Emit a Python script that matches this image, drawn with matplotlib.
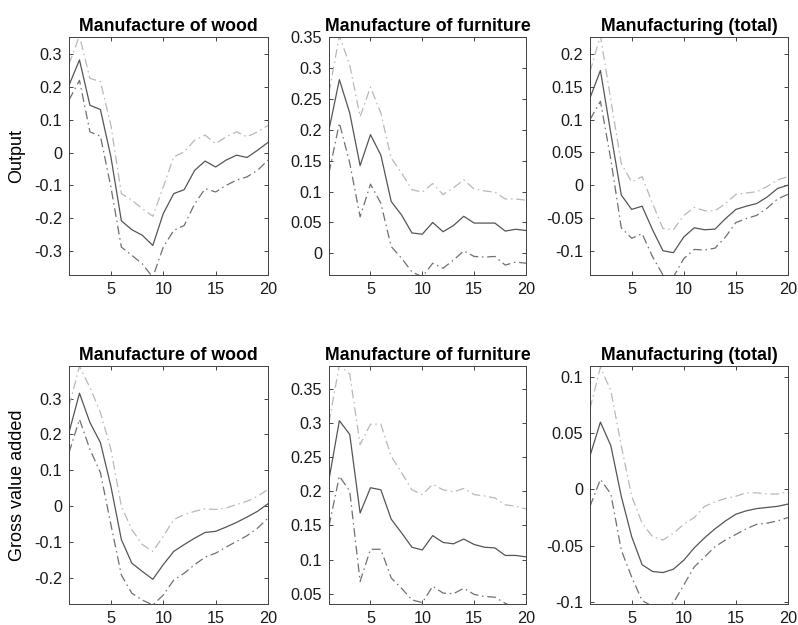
import matplotlib
matplotlib.use("Agg")
import matplotlib.pyplot as plt
from matplotlib.ticker import FuncFormatter, MultipleLocator

plt.rcParams['font.family'] = ['Liberation Sans', 'DejaVu Sans']
plt.rcParams['axes.unicode_minus'] = False

horizon = list(range(1, 21))

titles = ["Manufacture of wood", "Manufacture of furniture", "Manufacturing (total)"]
row_labels = ["Output", "Gross value added"]

# Output - wood
out_wood_mid = [0.205, 0.282, 0.144, 0.131, -0.013, -0.208, -0.235, -0.252, -0.283, -0.186,
                -0.125, -0.113, -0.054, -0.026, -0.044, -0.023, -0.008, -0.015, 0.007, 0.031]
out_wood_up = [0.27, 0.355, 0.226, 0.216, 0.083, -0.125, -0.145, -0.171, -0.194, -0.105,
               -0.013, 0.002, 0.038, 0.053, 0.027, 0.048, 0.063, 0.048, 0.063, 0.083]
out_wood_lo = [0.16, 0.22, 0.063, 0.05, -0.105, -0.288, -0.313, -0.339, -0.38, -0.288,
               -0.237, -0.222, -0.156, -0.11, -0.12, -0.1, -0.084, -0.074, -0.054, -0.023]

# Output - furniture
out_furn_mid = [0.2, 0.281, 0.227, 0.142, 0.192, 0.159, 0.084, 0.062, 0.033, 0.031,
                0.05, 0.035, 0.045, 0.06, 0.049, 0.049, 0.049, 0.036, 0.039, 0.037]
out_furn_up = [0.26, 0.352, 0.305, 0.221, 0.269, 0.227, 0.154, 0.13, 0.103, 0.099,
               0.113, 0.095, 0.106, 0.119, 0.104, 0.101, 0.099, 0.088, 0.088, 0.086]
out_furn_lo = [0.13, 0.211, 0.146, 0.059, 0.112, 0.081, 0.011, -0.008, -0.03, -0.038,
               -0.016, -0.024, -0.011, 0.004, -0.005, -0.006, -0.005, -0.019, -0.014, -0.016]

# Output - manufacturing total
out_tot_mid = [0.133, 0.175, 0.079, -0.015, -0.037, -0.032, -0.068, -0.1, -0.103, -0.079,
               -0.065, -0.068, -0.067, -0.051, -0.037, -0.032, -0.028, -0.018, -0.005, 0.0]
out_tot_up = [0.173, 0.228, 0.13, 0.033, 0.005, 0.013, -0.028, -0.066, -0.068, -0.046,
              -0.034, -0.039, -0.039, -0.028, -0.014, -0.012, -0.01, -0.002, 0.008, 0.013]
out_tot_lo = [0.1, 0.128, 0.039, -0.065, -0.081, -0.074, -0.109, -0.137, -0.14, -0.112,
              -0.098, -0.099, -0.096, -0.079, -0.057, -0.051, -0.046, -0.035, -0.021, -0.014]

# GVA - wood
gva_wood_mid = [0.205, 0.315, 0.233, 0.177, 0.055, -0.094, -0.16, -0.183, -0.205, -0.164,
                -0.127, -0.108, -0.09, -0.074, -0.071, -0.059, -0.046, -0.031, -0.015, 0.006]
gva_wood_up = [0.279, 0.39, 0.331, 0.261, 0.158, -0.001, -0.066, -0.108, -0.127, -0.085,
               -0.038, -0.024, -0.015, -0.008, -0.01, -0.006, 0.004, 0.013, 0.027, 0.046]
gva_wood_lo = [0.149, 0.242, 0.158, 0.093, -0.052, -0.193, -0.244, -0.263, -0.277, -0.249,
               -0.207, -0.188, -0.164, -0.143, -0.132, -0.115, -0.099, -0.083, -0.062, -0.034]

# GVA - furniture
gva_furn_mid = [0.217, 0.303, 0.283, 0.168, 0.205, 0.202, 0.159, 0.139, 0.118, 0.114,
                0.135, 0.125, 0.123, 0.13, 0.122, 0.118, 0.117, 0.106, 0.106, 0.104]
gva_furn_up = [0.3, 0.385, 0.371, 0.268, 0.298, 0.298, 0.251, 0.227, 0.202, 0.195,
               0.21, 0.202, 0.199, 0.204, 0.195, 0.193, 0.19, 0.18, 0.178, 0.174]
gva_furn_lo = [0.149, 0.222, 0.2, 0.068, 0.115, 0.115, 0.073, 0.058, 0.041, 0.037,
               0.061, 0.051, 0.05, 0.058, 0.049, 0.046, 0.045, 0.036, 0.029, 0.027]

# GVA - manufacturing total
gva_tot_mid = [0.03, 0.06, 0.039, -0.006, -0.042, -0.067, -0.073, -0.074, -0.071, -0.063,
               -0.052, -0.043, -0.035, -0.028, -0.022, -0.019, -0.017, -0.016, -0.015, -0.013]
gva_tot_up = [0.072, 0.109, 0.088, 0.039, -0.006, -0.03, -0.042, -0.045, -0.039, -0.031,
              -0.025, -0.015, -0.011, -0.008, -0.006, -0.003, -0.003, -0.004, -0.004, -0.002]
gva_tot_lo = [-0.015, 0.009, -0.004, -0.054, -0.078, -0.099, -0.104, -0.104, -0.101, -0.085,
              -0.069, -0.06, -0.051, -0.045, -0.04, -0.035, -0.031, -0.03, -0.028, -0.025]

panels = [
    [(out_wood_mid, out_wood_up, out_wood_lo), (out_furn_mid, out_furn_up, out_furn_lo),
     (out_tot_mid, out_tot_up, out_tot_lo)],
    [(gva_wood_mid, gva_wood_up, gva_wood_lo), (gva_furn_mid, gva_furn_up, gva_furn_lo),
     (gva_tot_mid, gva_tot_up, gva_tot_lo)],
]

ylims = [[(-0.373, 0.352), (-0.035, 0.35), (-0.137, 0.226)],
         [(-0.274, 0.391), (0.035, 0.383), (-0.102, 0.110)]]
ysteps = [[0.1, 0.05, 0.05], [0.1, 0.05, 0.05]]

lefts = [69 / 798, 329 / 798, 590 / 798]
widths = [199 / 798, 197 / 798, 198 / 798]
bottoms = [1 - 275 / 625, 1 - 604 / 625]
height = 238 / 625

fig = plt.figure(figsize=(7.98, 6.25), dpi=100)


def fmt(v, pos):
    s = "%g" % round(v, 4)
    return "0" if s in ("-0", "0") else s


for r in range(2):
    for c in range(3):
        ax = fig.add_axes([lefts[c], bottoms[r], widths[c], height])
        mid, up, lo = panels[r][c]
        ax.plot(horizon, up, color='#b8b8b8', lw=0.9, ls='-.', dashes=(7, 3, 1.2, 3))
        ax.plot(horizon, lo, color='#707070', lw=0.9, ls='-.', dashes=(7, 3, 1.2, 3))
        ax.plot(horizon, mid, color='#555555', lw=0.9, ls='-')
        ax.set_xlim(1, 20)
        ax.set_ylim(*ylims[r][c])
        ax.set_xticks([5, 10, 15, 20])
        ax.yaxis.set_major_locator(MultipleLocator(ysteps[r][c]))
        ax.yaxis.set_major_formatter(FuncFormatter(fmt))
        ax.tick_params(direction='in', length=3, width=0.6, top=True, right=True,
                       labelsize=11.7, colors='#262626', labelcolor='#1a1a1a', pad=5)
        for sp in ax.spines.values():
            sp.set_color('#404040')
            sp.set_linewidth(0.7)
        ax.set_title(titles[c], fontsize=12.8, fontweight='bold', pad=4)
        if c == 0:
            ax.set_ylabel(row_labels[r], fontsize=13, labelpad=6)

fig.savefig("out.png", dpi=100)
